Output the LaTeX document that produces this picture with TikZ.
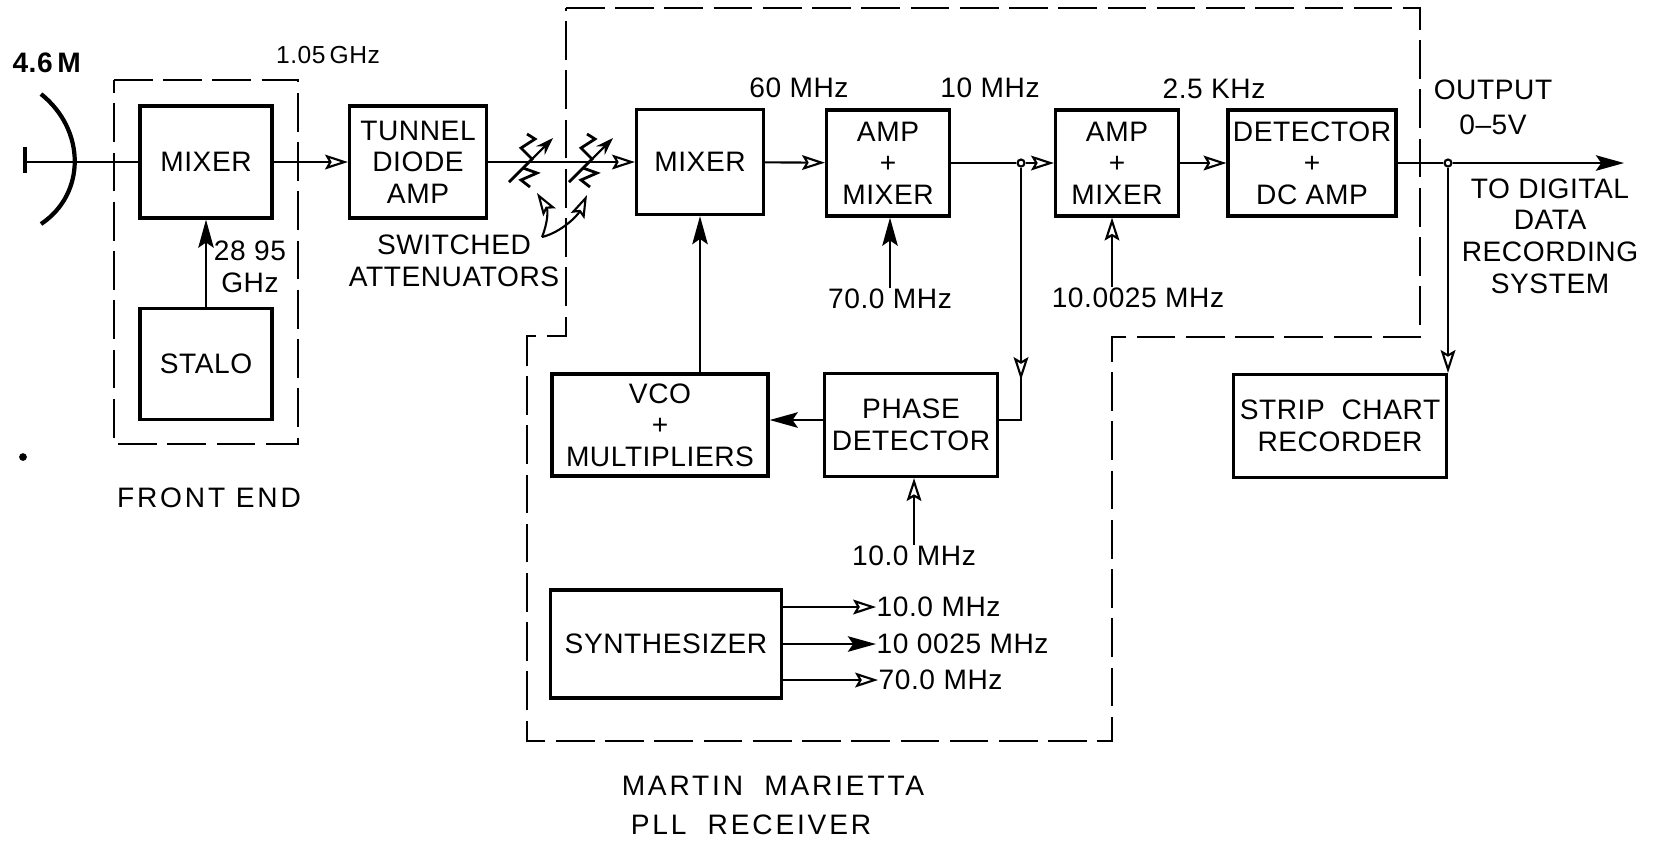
\documentclass[tikz,border=0pt]{standalone}
\usepackage{fontspec}
\setmainfont[LetterSpace=2]{Liberation Sans}
\usetikzlibrary{arrows.meta}

\begin{document}
\begin{tikzpicture}[
  x=0.01cm, y=-0.01cm,
  every node/.style = {inner sep=0pt, align=center, font=\fontsize{8}{9}\selectfont},
  spaced/.style = {font=\fontsize{8}{9}\selectfont\addfontfeature{LetterSpace=10}},
  block/.style = {draw, line width=0.9pt, align=center},
  region/.style = {line width=0.6pt, dash pattern=on 11pt off 3pt},
  wire/.style = {line width=0.6pt},
  hollow/.style = {wire, -{Stealth[length=6.5pt, width=4.2pt, inset=1.2pt, open, fill=white]}},
  solid/.style = {wire, -{Stealth[length=8pt, width=4.4pt, inset=1.5pt]}},
  jct/.style = {draw, circle, line width=0.6pt, minimum size=0.07cm, fill=white}
]
\useasboundingbox (0,0) rectangle (1655,841);

% dashed outlines
\draw[region] (114,80) -- (298,80) -- (298,444) -- (114,444) -- cycle;
\draw[region] (566,8) -- (1420,8) -- (1420,337) -- (1112,337) -- (1112,741)
  -- (527,741) -- (527,336) -- (566,336) -- cycle;

% blocks
\node[block, minimum width=1.32cm, minimum height=1.12cm] (mixerone) at (206,162) {MIXER};
\node[block, minimum width=1.32cm, minimum height=1.11cm] (stalo) at (206,364) {STALO};
\node[block, minimum width=1.37cm, minimum height=1.12cm] (tunnel) at (418,162) {TUNNEL\\DIODE\\AMP};
\node[block, minimum width=1.27cm, minimum height=1.05cm] (mixertwo) at (700,162) {MIXER};
\node[block, minimum width=1.23cm, minimum height=1.06cm] (ampone) at (888,163) {AMP\\+\\MIXER};
\node[block, minimum width=1.23cm, minimum height=1.06cm] (amptwo) at (1117,163) {AMP\\+\\MIXER};
\node[block, minimum width=1.68cm, minimum height=1.06cm] (detector) at (1312,163) {DETECTOR\\+\\DC AMP};
\node[block, minimum width=2.16cm, minimum height=1.02cm] (vco) at (660,425) {VCO\\+\\MULTIPLIERS};
\node[block, minimum width=1.73cm, minimum height=1.03cm] (phase) at (911,425) {PHASE\\DETECTOR};
\node[block, minimum width=2.31cm, minimum height=1.08cm] (synth) at (666,644) {SYNTHESIZER};
\node[block, minimum width=2.13cm, minimum height=1.03cm] (strip) at (1340,426) {STRIP\ \ CHART\\RECORDER};

% labels
\node (dishsize) at (47,63) {\textbf{4.6\,M}};
\node[font=\fontsize{7}{9}\selectfont] (ifone) at (328,55) {1.05\,GHz};
\node (lofreq) at (250,267) {28 95\\GHz};
\node (switched) at (454,261) {SWITCHED\\ATTENUATORS};
\node (ifsixty) at (799,88) {60 MHz};
\node (ifien) at (990,88) {10 MHz};
\node (ifaudio) at (1214,89) {2.5 KHz};
\node (output) at (1493,107) {OUTPUT\\[1pt]0--5V};
\node (digital) at (1550,236) {TO DIGITAL\\DATA\\RECORDING\\SYSTEM};
\node (seventy) at (890,299) {70.0 MHz};
\node (tenquarter) at (1138,298) {10.0025 MHz};
\node (tenref) at (914,556) {10.0 MHz};
\node[anchor=west] (synthten) at (876,607) {10.0 MHz};
\node[anchor=west] (synthquarter) at (876,644) {10 0025 MHz};
\node[anchor=west] (synthseventy) at (878,680) {70.0 MHz};
\node[spaced] (frontend) at (209,498) {FRONT END};
\node[spaced] (martin) at (773,786) {MARTIN\ \ MARIETTA};
\node[spaced] (pll) at (751,825) {PLL\ \ RECEIVER};

% dish
\coordinate (feed) at (25,162);
\draw[line width=1.2pt] (41,94) .. controls (86,130) and (86,194) .. (41,224);
\draw[line width=1.2pt] (25,147) -- (25,173);
\draw[wire] (feed) -- (mixerone);
\fill (23,457) circle (1.1pt);

% signal path
\node[jct] (tenjct) at (1021,163) {};
\node[jct] (outjct) at (1448,163) {};
\coordinate (outend) at (1624,163);
\draw[hollow] (mixerone) -- (tunnel);
\draw[hollow] (tunnel) -- (mixertwo);
\draw[hollow] (mixertwo) -- (ampone);
\draw[wire] (ampone) -- (tenjct);
\draw[hollow] (tenjct) -- (amptwo);
\draw[hollow] (amptwo) -- (detector);
\draw[wire] (detector) -- (outjct);
\draw[solid] (outjct) -- (outend);
\draw[hollow] (outjct) -- (outjct |- strip.north);
\draw[solid] (stalo) -- (mixerone);
\draw[solid] (vco.north -| mixertwo.south) -- (mixertwo.south);
\draw[solid] (seventy.north) -- (seventy.north |- ampone.south);
\draw[hollow] (tenquarter.north -| 1112,0) -- (1112,0 |- amptwo.south);
\draw[hollow] (tenref.north) -- (tenref.north |- phase.south);

% phase loop
\coordinate (phasecorner) at (1021,420);
\coordinate (phasemid) at (1021,380);
\draw[wire] (tenjct) -- (phasecorner) -- (phase.east |- phasecorner);
\draw[hollow] (tenjct) -- (phasemid);
\draw[solid] (phase.west |- phasecorner) -- (vco.east |- phasecorner);

% synthesizer outputs
\draw[hollow] (synth.east |- synthten.west) -- (synthten.west);
\draw[solid] (synth.east |- synthquarter.west) -- (synthquarter.west);
\draw[hollow] (synth.east |- synthseventy.west) -- (synthseventy.west);

% attenuators
\foreach \dx in {0,60} {
  \begin{scope}[xshift=\dx*0.01cm]
    \draw[line width=0.8pt] (527,134) -- (535,139) -- (521,148) -- (532,159) -- (509,182);
    \draw[line width=0.8pt] (523,168) -- (537,173) -- (521,180) -- (530,187);
    \draw[line width=0.6pt, -{Stealth[length=5pt, width=3.4pt]}] (532,159) -- (553,138);
  \end{scope}
}
\coordinate (curvestart) at (542,237);
\draw[hollow] (curvestart) .. controls (548,222) and (548,210) .. (537,193);
\draw[hollow] (curvestart) .. controls (562,232) and (578,215) .. (587,195);
\end{tikzpicture}
\end{document}
